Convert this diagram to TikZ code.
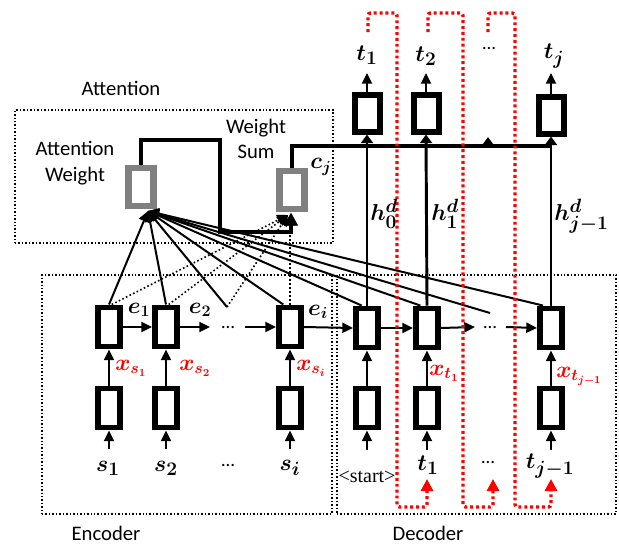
\documentclass[tikz,border=0pt]{standalone}
\usepackage{amsmath}
\usepackage{fontspec}
\setmainfont{Carlito}
\newfontfamily\timesfont{Liberation Serif}
\usetikzlibrary{arrows.meta}
\definecolor{gb}{RGB}{128,128,128}
\definecolor{rd}{RGB}{255,0,0}
\begin{document}
\begin{tikzpicture}[x=0.75pt,y=-0.75pt,
  cell/.style={draw, line width=4.2pt, minimum width=16.8pt, minimum height=29.5pt, inner sep=0pt, fill=white},
  obox/.style={cell, line width=4.5pt, minimum width=18.75pt, minimum height=27.75pt},
  gbox/.style={draw=gb, line width=4.8pt, minimum width=19pt, minimum height=28.75pt, inner sep=0pt, fill=white},
  dotbox/.style={draw, line width=1.1pt, dash pattern=on 1.1pt off 1.5pt, inner sep=0pt},
  conn/.style={line width=1.5pt},
  arr/.style={conn, -{Triangle[length=8pt,width=7.5pt]}},
  harr/.style={line width=2.2pt, -{Triangle[length=6.5pt,width=9pt]}},
  ctx/.style={line width=2.7pt},
  attarr/.style={conn, -{Triangle[length=8pt,width=8pt]}},
  dotarr/.style={line width=1.2pt, dash pattern=on 1.2pt off 1.8pt, -{Triangle[length=8pt,width=8pt]}},
  reddot/.style={draw=rd, line width=2.6pt, dash pattern=on 2.2pt off 2.2pt, rounded corners=2pt, -{Triangle[length=9pt,width=9pt]}},
  lbl/.style={font=\fontsize{15.5}{19}\selectfont, inner sep=0pt, align=center},
  mlbl/.style={font=\fontsize{19}{22}\selectfont, inner sep=0pt},
  slbl/.style={font=\fontsize{16.5}{19}\selectfont, inner sep=0pt},
  xlbl/.style={font=\fontsize{17}{20}\selectfont, text=rd, inner sep=0pt, anchor=west},
  dots/.style={font=\fontsize{14}{16}\selectfont, inner sep=0pt}
]
\useasboundingbox (0,0) rectangle (619,546);

% dotted frames
\node[dotbox, minimum width=238.5pt, minimum height=99.75pt] (attbox) at (174,176.5) {};
\node[dotbox, minimum width=217.5pt, minimum height=179.25pt] (encbox) at (187,394.5) {};
\node[dotbox, minimum width=209.25pt, minimum height=179.25pt] (decbox) at (476.5,394.5) {};

% coordinates
\coordinate (ea) at (227,307);
\coordinate (da) at (490,313);
\coordinate (awt) at (148,211);
\coordinate (cst) at (288,215);
\coordinate (lp1) at (220,140);
\coordinate (lp2) at (291,232);
\coordinate (cend) at (551,146);
\coordinate (xa1) at (488,148);
\coordinate (xa2) at (488,137);
\coordinate (ea1) at (210,327);
\coordinate (ea2) at (245,327);
\coordinate (da1) at (475,327);
\coordinate (da2) at (506,327);
\foreach \n/\x in {sa1/109,sa2/166,sai/290}{\coordinate (\n) at (\x,449);}
\foreach \n/\x in {ta0/367,ta1/427,taj/551}{\coordinate (\n) at (\x,450);}
\foreach \n/\x in {oa1/367,oa2/426,oaj/551}{\coordinate (\n) at (\x,73);}

% cells
\node[cell] (e1) at (109,327) {};
\node[cell] (e2) at (166,327) {};
\node[cell] (ei) at (290,327) {};
\node[cell] (l1) at (109,408) {};
\node[cell] (l2) at (166,408) {};
\node[cell] (li) at (290,408) {};
\node[cell] (d0) at (367,328) {};
\node[cell] (d1) at (427,328) {};
\node[cell] (dj) at (551,328) {};
\node[cell] (m0) at (367,408) {};
\node[cell] (m1) at (427,408) {};
\node[cell] (mj) at (551,408) {};
\node[obox] (o1) at (367,113) {};
\node[obox] (o2) at (426,113) {};
\node[obox] (oj) at (551,115) {};
\node[gbox] (aw) at (141,187) {};
\node[gbox] (cs) at (292,190) {};

% attention lines
\foreach \s in {(e1.north),(e2.north),(ea),([xshift=-5pt]ei.north),([xshift=-4pt]d0.north),([xshift=-5pt]d1.north),(da),([xshift=-6pt]dj.north)}
  \draw[attarr] \s -- (awt);
\draw[dotarr] ([xshift=2pt]e1.north) -- (cst);
\draw[dotarr] ([xshift=2pt]e2.north) -- (cst);
\draw[dotarr] (ea) -- (cst);
\draw[dotarr] (ei.north) -- (ei.north |- cst);

% attention loop and context
\draw[ctx, -{Triangle[length=10pt,width=10pt]}] (aw.north) |- (lp1) |- (lp2) -- (cs.south -| lp2);
\draw[ctx] (cs.north) |- (cend);
\draw[harr] (d0.north) -- (o1.south);
\draw[harr] (d1.north) -- (o2.south);
\draw[harr] (dj.north) -- (oj.south);
\draw[harr] (xa1) -- (xa2);
\draw[arr] (o1.north) -- (oa1);
\draw[arr] (o2.north) -- (oa2);
\draw[arr] (oj.north) -- (oaj);

% encoder / decoder flow
\draw[arr] (sa1) -- (l1.south);
\draw[arr] (sa2) -- (l2.south);
\draw[arr] (sai) -- (li.south);
\draw[arr] (ta0) -- (m0.south);
\draw[arr] (ta1) -- (m1.south);
\draw[arr] (taj) -- (mj.south);
\draw[arr] (l1.north) -- (e1.south);
\draw[arr] (l2.north) -- (e2.south);
\draw[arr] (li.north) -- (ei.south);
\draw[arr] (m0.north) -- (d0.south);
\draw[arr] (m1.north) -- (d1.south);
\draw[arr] (mj.north) -- (dj.south);
\draw[arr] (e1.east) -- (e2.west);
\draw[arr] (e2.east) -- (ea1);
\draw[arr] (ea2) -- (ei.west);
\draw[arr] (ei.east) -- (d0.west);
\draw[arr] (d0.east) -- (d1.west);
\draw[arr] (d1.east) -- (da1);
\draw[arr] (da2) -- (dj.west);

% red feedback loops
\coordinate (r1s) at (368,32); \coordinate (r1e) at (427,479);
\coordinate (r2s) at (428,32); \coordinate (r2e) at (493,479);
\coordinate (r3s) at (488,32); \coordinate (r3e) at (551,479);
\draw[reddot] (r1s) -- (368,13) -- (397,13) -- (397,507) -- (427,507) -- (r1e);
\draw[reddot] (r2s) -- (428,13) -- (463,13) -- (463,507) -- (493,507) -- (r2e);
\draw[reddot] (r3s) -- (488,13) -- (515,13) -- (515,507) -- (551,507) -- (r3e);

% labels
\node[lbl] (tatt) at (121,88) {Attention};
\node[lbl] (taw) at (75,163) {Attention\\Weight};
\node[lbl] (tws) at (256,139) {Weight\\Sum};
\node[lbl] (tenc) at (106,533) {Encoder};
\node[lbl] (tdec) at (428,533) {Decoder};
\node[slbl] (tcj) at (321,167) {$\boldsymbol{c_j}$};

\node[mlbl] (lt1) at (367,55) {$\boldsymbol{t_1}$};
\node[mlbl] (lt2) at (426,56) {$\boldsymbol{t_2}$};
\node[dots] (ltd) at (489,49) {…};
\node[mlbl] (ltj) at (554,56) {$\boldsymbol{t_j}$};

\node[mlbl, anchor=west] (lh0) at (370,214) {$\boldsymbol{h_0^d}$};
\node[mlbl, anchor=west] (lh1) at (431,214) {$\boldsymbol{h_1^d}$};
\node[mlbl, anchor=west] (lhj) at (554,216) {$\boldsymbol{h_{j-1}^d}$};

\node[slbl] (le1) at (139,310) {$\boldsymbol{e_1}$};
\node[slbl] (le2) at (200,310) {$\boldsymbol{e_2}$};
\node[slbl] (lei) at (318,312) {$\boldsymbol{e_i}$};
\node[dots] (led) at (228,328) {…};
\node[dots] (ldd) at (490,328) {…};

\node[xlbl] (xs1) at (115,368) {$\boldsymbol{x_{s_1}}$};
\node[xlbl] (xs2) at (179,368) {$\boldsymbol{x_{s_2}}$};
\node[xlbl] (xsi) at (296,368) {$\boldsymbol{x_{s_i}}$};
\node[xlbl] (xt1) at (429,373) {$\boldsymbol{x_{t_1}}$};
\node[xlbl] (xtj) at (556,376) {$\boldsymbol{x_{t_{j-1}}}$};

\node[mlbl] (ls1) at (108,468) {$\boldsymbol{s_1}$};
\node[mlbl] (ls2) at (166,468) {$\boldsymbol{s_2}$};
\node[dots] (lsd) at (228,466) {…};
\node[mlbl] (lsi) at (290,468) {$\boldsymbol{s_i}$};
\node[font=\timesfont\fontsize{15}{18}\selectfont, inner sep=0pt] (lst) at (367,477) {<start>};
\node[mlbl] (lit1) at (428,465) {$\boldsymbol{t_1}$};
\node[dots] (litd) at (488,463) {…};
\node[mlbl] (litj) at (550,466) {$\boldsymbol{t_{j-1}}$};
\end{tikzpicture}
\end{document}
